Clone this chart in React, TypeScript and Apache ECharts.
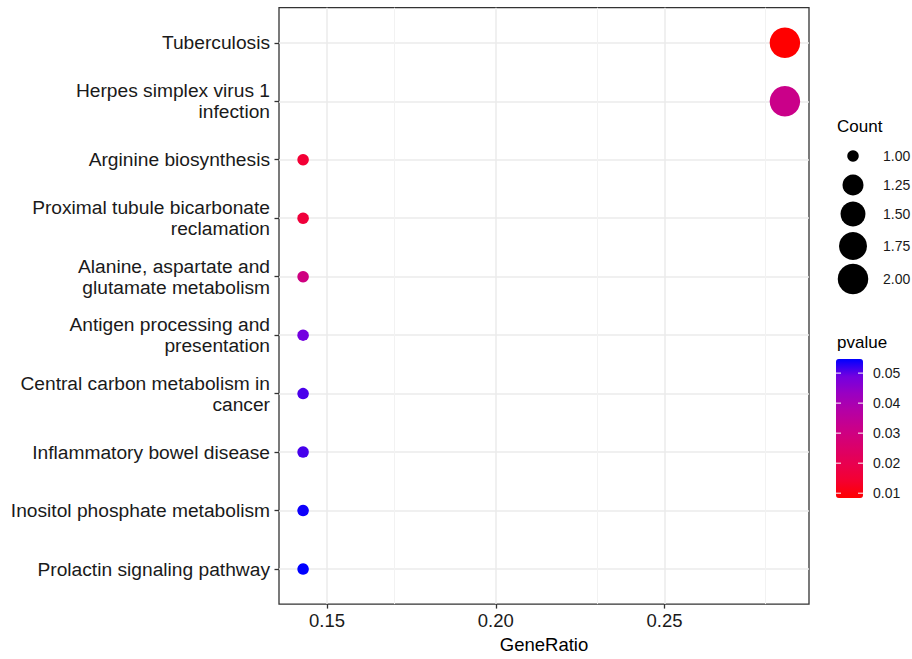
import React, { useEffect, useRef } from "react";
import * as echarts from "echarts";

// ---- data ----
const categories = [
  "Tuberculosis",
  "Herpes simplex virus 1\ninfection",
  "Arginine biosynthesis",
  "Proximal tubule bicarbonate\nreclamation",
  "Alanine, aspartate and\nglutamate metabolism",
  "Antigen processing and\npresentation",
  "Central carbon metabolism in\ncancer",
  "Inflammatory bowel disease",
  "Inositol phosphate metabolism",
  "Prolactin signaling pathway",
];
const geneRatio = [0.2857, 0.2857, 0.1429, 0.1429, 0.1429, 0.1429, 0.1429, 0.1429, 0.1429, 0.1429];
const counts = [2, 2, 1, 1, 1, 1, 1, 1, 1, 1];
const pvalues = [0.0084, 0.0316, 0.0149, 0.016, 0.0297, 0.0489, 0.051, 0.0512, 0.054, 0.0547];

const xTicks = [0.15, 0.2, 0.25];
const xMinorTicks = [0.175, 0.225, 0.275];
const pTicks = [0.01, 0.02, 0.03, 0.04, 0.05];
const countTicks = [1, 1.25, 1.5, 1.75, 2];

// ---- scales ----
const FONT = "'Liberation Sans', Arial, Helvetica, sans-serif";
const rMin = Math.min(...geneRatio);
const rMax = Math.max(...geneRatio);
const xMin = rMin - (rMax - rMin) * 0.05;
const xMax = rMax + (rMax - rMin) * 0.05;
const pMin = Math.min(...pvalues);
const pMax = Math.max(...pvalues);
const cMin = Math.min(...counts);
const cMax = Math.max(...counts);
const sizeFn = (c: number) => 11.5 + 19 * Math.sqrt((c - cMin) / (cMax - cMin));
const gradient = ["#FF0000", "#F40031", "#E80050", "#DA006C", "#CA0089", "#B500A5", "#9A00C2", "#7300E0", "#0000FF"];

const gridL = 279, gridR = 809, gridT = 7.7, gridB = 607.3;
const cbLeft = 836, cbTop = 359, cbW = 27, cbH = 139;
const countLegendY = [156, 185, 214, 246, 279];

export default function App() {
  const ref = useRef<HTMLDivElement>(null);
  useEffect(() => {
    if (!ref.current) return;
    const chart = echarts.init(ref.current, null, { renderer: "svg" });
    const idx = categories.map((_, i) => i);
    const data = categories.map((_, i) => [geneRatio[i], i, pvalues[i], counts[i]]);

    const graphics: any[] = [];
    graphics.push({
      type: "text", left: 837, top: 118,
      style: { text: "Count", font: `17px ${FONT}`, fill: "#000" },
    });
    countTicks.forEach((c, i) => {
      graphics.push({ type: "circle", shape: { cx: 853, cy: countLegendY[i], r: sizeFn(c) / 2 }, style: { fill: "#000" } });
      graphics.push({
        type: "text", x: 883, y: countLegendY[i],
        style: { text: c.toFixed(2), font: `14px ${FONT}`, fill: "#1a1a1a", textVerticalAlign: "middle" },
      });
    });
    graphics.push({
      type: "text", left: 837, top: 334,
      style: { text: "pvalue", font: `17px ${FONT}`, fill: "#000" },
    });
    pTicks.forEach((p) => {
      const y = cbTop + ((pMax - p) / (pMax - pMin)) * cbH;
      graphics.push({ type: "line", shape: { x1: cbLeft, y1: y, x2: cbLeft + 5, y2: y }, style: { stroke: "#fff", lineWidth: 1 }, z: 100 });
      graphics.push({ type: "line", shape: { x1: cbLeft + cbW - 5, y1: y, x2: cbLeft + cbW, y2: y }, style: { stroke: "#fff", lineWidth: 1 }, z: 100 });
      graphics.push({
        type: "text", x: 873, y,
        style: { text: p.toFixed(2), font: `14px ${FONT}`, fill: "#1a1a1a", textVerticalAlign: "middle" },
      });
    });

    const gridLines: any[] = [
      ...idx.map((i) => ({ yAxis: i, lineStyle: { color: "#EBEBEB", width: 1.5, type: "solid" } })),
      ...xTicks.map((v) => ({ xAxis: v, lineStyle: { color: "#EBEBEB", width: 1.5, type: "solid" } })),
      ...xMinorTicks.map((v) => ({ xAxis: v, lineStyle: { color: "#F2F2F2", width: 1, type: "solid" } })),
    ];

    chart.setOption({
      animation: false,
      backgroundColor: "#fff",
      textStyle: { fontFamily: FONT },
      grid: {
        left: gridL, top: gridT, width: gridR - gridL, height: gridB - gridT,
        show: true, borderColor: "#333", borderWidth: 1.3, backgroundColor: "#fff",
      },
      xAxis: {
        type: "value", min: xMin, max: xMax,
        axisLine: { show: false, onZero: false },
        axisTick: { show: true, customValues: xTicks, length: 4.5, lineStyle: { color: "#333", width: 1.3 } },
        axisLabel: { customValues: xTicks, formatter: (v: number) => v.toFixed(2), fontSize: 18.5, color: "#1a1a1a", margin: 7, fontFamily: FONT },
        splitLine: { show: false },
        name: "GeneRatio", nameLocation: "middle", nameGap: 30,
        nameTextStyle: { fontSize: 18.5, color: "#000", fontFamily: FONT },
      },
      yAxis: {
        type: "value", min: -0.6, max: 9.6, inverse: true,
        axisLine: { show: false, onZero: false },
        axisTick: { show: true, customValues: idx, length: 4.5, lineStyle: { color: "#333", width: 1.3 } },
        axisLabel: {
          customValues: idx, formatter: (v: number) => categories[Math.round(v)] ?? "",
          align: "right", fontSize: 19.2, lineHeight: 21, color: "#1a1a1a", margin: 9, fontFamily: FONT,
        },
        splitLine: { show: false },
      },
      visualMap: {
        type: "continuous", seriesIndex: 0, dimension: 2, min: pMin, max: pMax,
        inRange: { color: gradient }, calculable: false, show: true,
        left: cbLeft, top: cbTop, itemWidth: cbW, itemHeight: cbH, padding: 0,
        orient: "vertical", text: ["", ""],
      },
      graphic: graphics,
      series: [
        {
          type: "scatter", data, z: 10,
          symbolSize: (v: number[]) => sizeFn(v[3]),
          itemStyle: { opacity: 1 },
          silent: true,
        },
        {
          type: "scatter", data: [], z: 1, silent: true,
          markLine: {
            z: 1, silent: true, symbol: ["none", "none"], label: { show: false },
            data: gridLines, animation: false,
          },
        },
      ],
    });
    return () => chart.dispose();
  }, []);
  return <div ref={ref} style={{ position: "fixed", left: 0, top: 0, width: 912, height: 659 }} />;
}
